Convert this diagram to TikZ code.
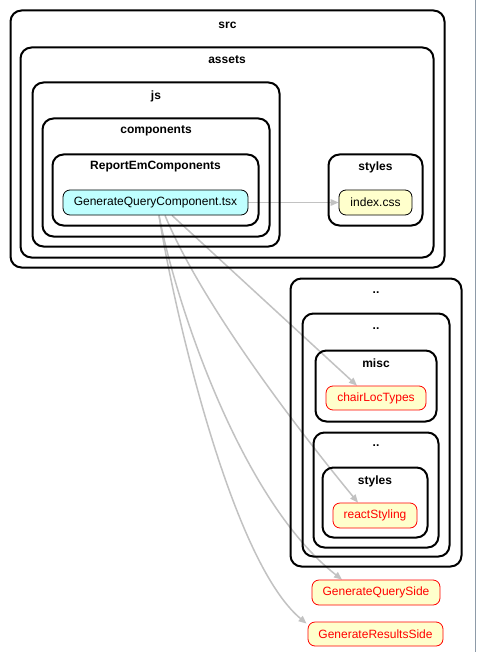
\documentclass[tikz,border=0pt]{standalone}
\usepackage{fontspec}
\setmainfont{Liberation Sans}
\usetikzlibrary{arrows.meta}
\definecolor{cyanfill}{HTML}{BFFFFF}
\definecolor{yelfill}{HTML}{FFFFCC}
\definecolor{edgegray}{HTML}{C2C2C2}
\definecolor{rulecol}{HTML}{8E9BA8}
\pgfdeclarelayer{bg}
\pgfdeclarelayer{edges}
\pgfsetlayers{bg,edges,main}
\tikzset{
  cluster/.style={draw=black, line width=2pt, rounded corners=11pt, inner sep=0pt},
  clabel/.style={font=\fontsize{12}{14}\selectfont\bfseries, inner sep=0pt},
  filenode/.style={draw=black, line width=0.8pt, rounded corners=7pt, inner sep=0pt,
    minimum height=25pt, font=\fontsize{12}{14}\selectfont},
  srcfile/.style={filenode, fill=cyanfill},
  cssfile/.style={filenode, fill=yelfill},
  missfile/.style={filenode, draw=red, text=red, fill=yelfill},
  dep/.style={draw=edgegray, line width=1.5pt, -{Triangle[length=8pt,width=6.5pt,fill=edgegray]}}
}
\begin{document}
\begin{tikzpicture}[x=1pt,y=-1pt]
\useasboundingbox (0,0) rectangle (477,652);
\begin{pgfonlayer}{bg}
\fill[white] (0,0) rectangle (477,652);
\end{pgfonlayer}
\draw[rulecol, line width=1pt] (475.5,0) -- (475.5,652);

% clusters
\node[cluster, minimum width=434pt, minimum height=257pt] (csrc) at (227.5,139) {};
\node[clabel] (lsrc) at (227.5,25) {src};
\node[cluster, minimum width=413pt, minimum height=210pt] (cassets) at (227,152.5) {};
\node[clabel] (lassets) at (227,60) {assets};
\node[cluster, minimum width=247pt, minimum height=164pt] (cjs) at (156,164.5) {};
\node[clabel] (ljs) at (156,96) {js};
\node[cluster, minimum width=227pt, minimum height=118pt] (ccomp) at (156,177.5) {};
\node[clabel] (lcomp) at (156,131) {components};
\node[cluster, minimum width=206pt, minimum height=71pt] (crep) at (155.5,190) {};
\node[clabel] (lrep) at (155.5,167) {ReportEmComponents};
\node[cluster, minimum width=94pt, minimum height=71pt] (cstyA) at (375.5,190) {};
\node[clabel] (lstyA) at (375.5,167) {styles};

\node[cluster, minimum width=171pt, minimum height=288pt] (cdotA) at (376,422.5) {};
\node[clabel] (ldotA) at (376,293) {..};
\node[cluster, minimum width=147pt, minimum height=243pt] (cdotB) at (376,435) {};
\node[clabel] (ldotB) at (376,329) {..};
\node[cluster, minimum width=121pt, minimum height=71pt] (cmisc) at (376,386) {};
\node[clabel] (lmisc) at (376,363) {misc};
\node[cluster, minimum width=125pt, minimum height=115pt] (cdotC) at (376,490) {};
\node[clabel] (ldotC) at (376,446) {..};
\node[cluster, minimum width=105pt, minimum height=70pt] (cstyB) at (375,502.5) {};
\node[clabel] (lstyB) at (375,481) {styles};

% file nodes
\node[srcfile, minimum width=185pt] (gqc) at (155.5,202.5) {GenerateQueryComponent.tsx};
\node[cssfile, minimum width=73pt] (css) at (375.5,202.5) {index.css};
\node[missfile, minimum width=100pt, minimum height=24pt] (chair) at (376,398) {chairLocTypes};
\node[missfile, minimum width=84pt] (react) at (375,515.5) {reactStyling};
\node[missfile, minimum width=128pt] (gqs) at (376,592.5) {GenerateQuerySide};
\node[missfile, minimum width=135pt, minimum height=24pt] (grs) at (375.5,634) {GenerateResultsSide};

% edges
\begin{pgfonlayer}{edges}
\draw[dep] (gqc.east) -- (css.west);
\draw[dep] ([xshift=16.5pt]gqc.south) -- ([xshift=-19pt]chair.north);
\draw[dep] ([xshift=9.5pt]gqc.south) .. controls (200,300) and (290,420) .. ([xshift=-17pt]react.north);
\draw[dep] ([xshift=3.5pt]gqc.south) .. controls (175,300) and (240,500) .. ([xshift=-34pt]gqs.north);
\draw[dep] ([xshift=3.5pt]gqc.south) .. controls (172,300) and (230,560) .. ([xshift=-1pt,yshift=-2pt]grs.north west);
\end{pgfonlayer}
\end{tikzpicture}
\end{document}
